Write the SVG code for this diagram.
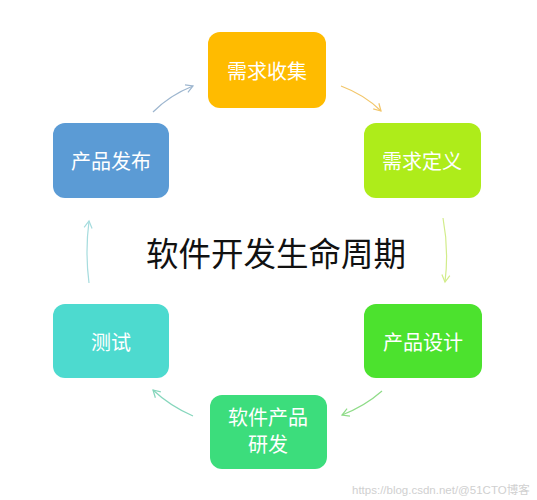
<svg xmlns="http://www.w3.org/2000/svg" width="537" height="500" viewBox="0 0 537 500">
<style>
.box{stroke:none}
.lbl{font-family:"Noto Sans CJK SC","Noto Sans",sans-serif;font-size:20px;fill:#ffffff;text-anchor:middle;dominant-baseline:central}
.con{fill:none;stroke-width:1.2}
.title{font-family:"Noto Sans CJK SC",sans-serif;font-size:32.5px;fill:#111111;text-anchor:middle;dominant-baseline:central}
.wm{font-family:"Liberation Sans","Noto Sans CJK SC",sans-serif;font-size:11.5px;fill:#d0d0d0}
</style>
<defs>
<marker id="a1" markerWidth="10" markerHeight="10" refX="8" refY="5" orient="auto" markerUnits="userSpaceOnUse"><path d="M1,1 L8,5 L1,9" fill="none" stroke="#F2C66A" stroke-width="1.2"/></marker>
<marker id="a2" markerWidth="10" markerHeight="10" refX="8" refY="5" orient="auto" markerUnits="userSpaceOnUse"><path d="M1,1 L8,5 L1,9" fill="none" stroke="#D2EC8A" stroke-width="1.2"/></marker>
<marker id="a3" markerWidth="10" markerHeight="10" refX="8" refY="5" orient="auto" markerUnits="userSpaceOnUse"><path d="M1,1 L8,5 L1,9" fill="none" stroke="#8FDC88" stroke-width="1.2"/></marker>
<marker id="a4" markerWidth="10" markerHeight="10" refX="8" refY="5" orient="auto" markerUnits="userSpaceOnUse"><path d="M1,1 L8,5 L1,9" fill="none" stroke="#86D6BC" stroke-width="1.2"/></marker>
<marker id="a5" markerWidth="10" markerHeight="10" refX="8" refY="5" orient="auto" markerUnits="userSpaceOnUse"><path d="M1,1 L8,5 L1,9" fill="none" stroke="#A6DCDE" stroke-width="1.2"/></marker>
<marker id="a6" markerWidth="10" markerHeight="10" refX="8" refY="5" orient="auto" markerUnits="userSpaceOnUse"><path d="M1,1 L8,5 L1,9" fill="none" stroke="#9DB6CF" stroke-width="1.2"/></marker>
</defs>
<rect width="537" height="500" fill="#ffffff"/>
<g id="connectors">
<path class="con" stroke="#F2C66A" d="M341,86 Q365,95 381,111" marker-end="url(#a1)"/>
<path class="con" stroke="#D2EC8A" d="M443,218 Q449,250 445,282" marker-end="url(#a2)"/>
<path class="con" stroke="#8FDC88" d="M382,391 Q365,406 342,415" marker-end="url(#a3)"/>
<path class="con" stroke="#86D6BC" d="M193,416 Q170,406 153,390" marker-end="url(#a4)"/>
<path class="con" stroke="#A6DCDE" d="M89,283 Q85,252 89,221" marker-end="url(#a5)"/>
<path class="con" stroke="#9DB6CF" d="M153,112 Q170,95 193,86" marker-end="url(#a6)"/>
</g>
<g id="n1"><rect class="box" x="208" y="32" width="118" height="76" rx="12" fill="#FFBB00"/><text class="lbl" x="267" y="70">需求收集</text></g>
<g id="n2"><rect class="box" x="364" y="123" width="117" height="75" rx="12" fill="#AEEC1A"/><text class="lbl" x="422" y="160">需求定义</text></g>
<g id="n3"><rect class="box" x="364" y="304" width="118" height="74" rx="12" fill="#4CE22E"/><text class="lbl" x="423" y="341">产品设计</text></g>
<g id="n4"><rect class="box" x="210" y="395" width="117" height="74" rx="12" fill="#3CDD7C"/><text class="lbl" x="268" y="416">软件产品</text><text class="lbl" x="268" y="443">研发</text></g>
<g id="n5"><rect class="box" x="53" y="304" width="116" height="74" rx="12" fill="#4DDACF"/><text class="lbl" x="111" y="341">测试</text></g>
<g id="n6"><rect class="box" x="53" y="123" width="116" height="75" rx="12" fill="#5B9BD5"/><text class="lbl" x="111" y="160">产品发布</text></g>
<text class="title" x="276" y="251">软件开发生命周期</text>
<text class="wm" x="352" y="494">https://blog.csdn.net/@51CTO博客</text>
</svg>
